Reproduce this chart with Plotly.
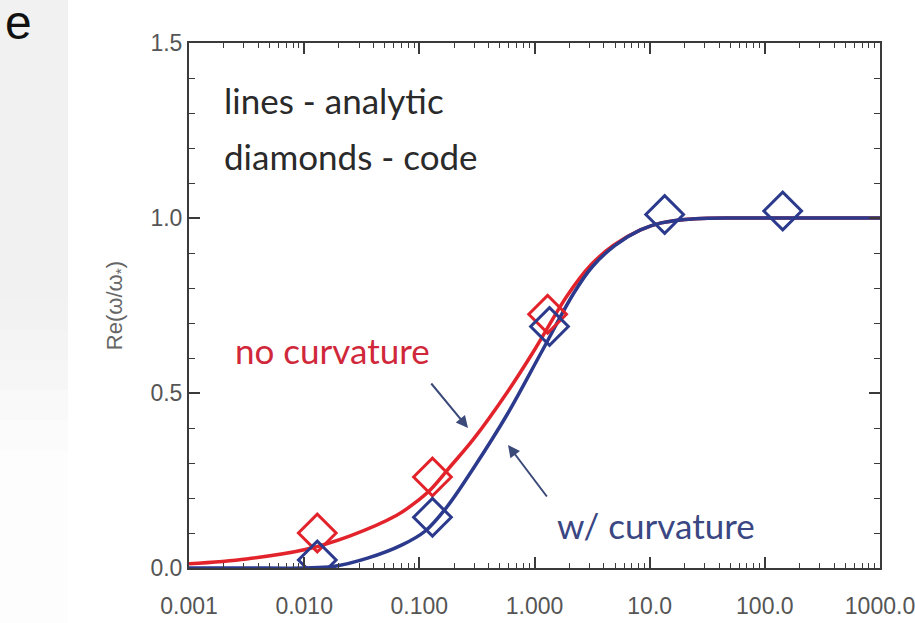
import plotly.graph_objects as go

# ---- data ----
red_line_x = [0.001, 0.00316, 0.01, 0.0251, 0.0631, 0.0891, 0.126, 0.186, 0.295, 0.582, 0.977,
              1.94, 3.07, 4.86, 8.32, 12.6, 25.1, 63.1, 1000.0]
red_line_y = [0.012, 0.026, 0.052, 0.092, 0.15, 0.183, 0.225, 0.29, 0.368, 0.503, 0.618,
              0.78, 0.865, 0.922, 0.966, 0.986, 0.998, 1.0, 1.0]

blue_line_x = [0.001, 0.00316, 0.01, 0.0178, 0.0355, 0.0708, 0.112, 0.174, 0.295, 0.582,
               1.12, 2.19, 3.16, 5.01, 8.32, 12.6, 25.1, 63.1, 1000.0]
blue_line_y = [0.0, 0.0, 0.0, 0.004, 0.028, 0.066, 0.105, 0.175, 0.285, 0.44,
               0.61, 0.785, 0.86, 0.922, 0.966, 0.986, 0.998, 1.0, 1.0]

red_pts_x = [0.013, 0.13, 1.3]
red_pts_y = [0.10, 0.26, 0.725]

blue_pts_x = [0.013, 0.13, 1.35, 13.5, 143.0]
blue_pts_y = [0.023, 0.145, 0.69, 1.01, 1.02]

x_tickvals = [0.001, 0.01, 0.1, 1, 10, 100, 1000]
x_ticktext = ["0.001", "0.010", "0.100", "1.000", "10.0", "100.0", "1000.0"]
y_tickvals = [0.0, 0.5, 1.0, 1.5]
y_ticktext = ["0.0", "0.5", "1.0", "1.5"]

RED = "#e2232b"
BLUE = "#2b3a8c"
W, H = 915, 623
L, R, T, B = 189, 35, 43, 55
PW, PH = W - L - R, H - T - B

def px2paper_x(px):
    return (px - L) / PW

def py2paper_y(py):
    return (H - B - py) / PH

fig = go.Figure()
fig.add_trace(go.Scatter(x=red_line_x, y=red_line_y, mode="lines",
                         line=dict(color=RED, width=3.5, shape="spline", smoothing=1.0),
                         showlegend=False, hoverinfo="skip"))
fig.add_trace(go.Scatter(x=blue_line_x, y=blue_line_y, mode="lines",
                         line=dict(color=BLUE, width=3.5, shape="spline", smoothing=1.0),
                         showlegend=False, hoverinfo="skip"))
fig.add_trace(go.Scatter(x=red_pts_x, y=red_pts_y, mode="markers",
                         marker=dict(symbol="diamond-open", size=29, color=RED, line=dict(width=3, color=RED)),
                         showlegend=False, cliponaxis=True))
fig.add_trace(go.Scatter(x=blue_pts_x, y=blue_pts_y, mode="markers",
                         marker=dict(symbol="diamond-open", size=29, color=BLUE, line=dict(width=3, color=BLUE)),
                         showlegend=False, cliponaxis=True))

axis_common = dict(showgrid=False, zeroline=False, showline=True, linecolor="#3a3a3a",
                   linewidth=2, mirror="ticks", ticks="inside", tickcolor="#3a3a3a",
                   automargin=False, ticklabeloverflow="allow",
                   tickfont=dict(family="Liberation Sans, Arial, sans-serif", size=23, color="#555555"))

fig.update_xaxes(type="log", range=[-3, 3], tickvals=x_tickvals, ticktext=x_ticktext,
                 ticklen=11, tickwidth=1.5,
                 minor=dict(ticks="inside", ticklen=5, tickwidth=1, tickcolor="#3a3a3a", dtick="D1"),
                 ticklabelstandoff=16, **axis_common)
fig.update_yaxes(range=[0, 1.5], tickvals=y_tickvals, ticktext=y_ticktext,
                 ticklen=11, tickwidth=1.5,
                 minor=dict(ticks="inside", ticklen=6, tickwidth=1, tickcolor="#3a3a3a", dtick=0.1),
                 title=dict(text="Re(ω/ω<sub>*</sub>)", standoff=22,
                            font=dict(family="Liberation Sans, Arial, sans-serif", size=22, color="#666666")),
                 **axis_common)

# gray strip on the left (fading to white lower down) with panel label
strip_edges = [0, 300, 330, 360, 390, 420, 450, 623]
strip_cols = ["#f1f1f1", "#f2f2f2", "#f4f4f4", "#f6f6f6", "#f9f9f9", "#fbfbfb", "#fdfdfd"]
for i, c in enumerate(strip_cols):
    fig.add_shape(type="rect", xref="paper", yref="paper",
                  x0=px2paper_x(0), x1=px2paper_x(68),
                  y0=py2paper_y(strip_edges[i + 1]), y1=py2paper_y(strip_edges[i]),
                  fillcolor=c, line=dict(width=0), layer="below")
fig.add_annotation(text="e", xref="paper", yref="paper", x=px2paper_x(3), y=py2paper_y(23),
                   xanchor="left", yanchor="middle", showarrow=False,
                   font=dict(family="Liberation Sans, Arial, sans-serif", size=48, color="#111111"))

txt_font = "Lato, Open Sans, sans-serif"
fig.add_annotation(text="lines - analytic", xref="paper", yref="paper",
                   x=px2paper_x(222), y=py2paper_y(100), xanchor="left", yanchor="middle",
                   showarrow=False, font=dict(family=txt_font, size=35, color="#2a2a2a"))
fig.add_annotation(text="diamonds - code", xref="paper", yref="paper",
                   x=px2paper_x(222), y=py2paper_y(156), xanchor="left", yanchor="middle",
                   showarrow=False, font=dict(family=txt_font, size=35, color="#2a2a2a"))
fig.add_annotation(text="no curvature", xref="paper", yref="paper",
                   x=px2paper_x(233), y=py2paper_y(350), xanchor="left", yanchor="middle",
                   showarrow=False, font=dict(family=txt_font, size=35, color="#d0283a"))
fig.add_annotation(text="w/ curvature", xref="paper", yref="paper",
                   x=px2paper_x(555), y=py2paper_y(525), xanchor="left", yanchor="middle",
                   showarrow=False, font=dict(family=txt_font, size=35, color="#3a4783"))

# arrows (tail offsets in pixels)
arrow_col = "#3c4a7a"
fig.add_annotation(x=px2paper_x(468), y=py2paper_y(428), xref="paper", yref="paper",
                   ax=430 - 468, ay=382 - 428, axref="pixel", ayref="pixel",
                   text="", showarrow=True, arrowhead=2, arrowsize=1.2, arrowwidth=2, arrowcolor=arrow_col)
fig.add_annotation(x=px2paper_x(508), y=py2paper_y(445), xref="paper", yref="paper",
                   ax=548 - 508, ay=498 - 445, axref="pixel", ayref="pixel",
                   text="", showarrow=True, arrowhead=2, arrowsize=1.2, arrowwidth=2, arrowcolor=arrow_col)

fig.update_layout(width=W, height=H, margin=dict(l=L, r=R, t=T, b=B),
                  paper_bgcolor="white", plot_bgcolor="white")

fig.write_html("out.html")
